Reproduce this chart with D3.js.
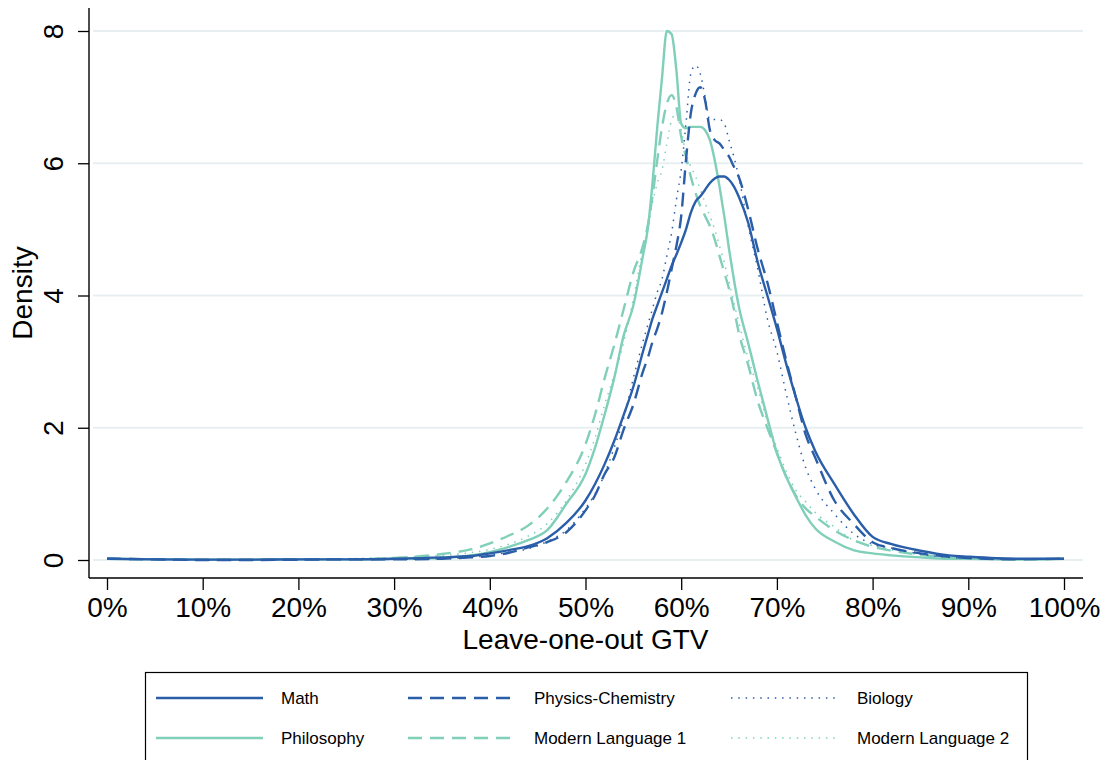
<!DOCTYPE html>
<html>
<head>
<meta charset="utf-8">
<script src="https://cdn.jsdelivr.net/npm/d3@7"></script>
<style>
  html, body { margin: 0; padding: 0; background: #fff; }
  svg { display: block; font-family: "Liberation Sans", Arial, Helvetica, sans-serif; }
</style>
</head>
<body>
<svg id="chart" width="1103" height="760"></svg>
<script>
// Leave-one-out GTV share (x grid shared by every density curve)
const gtv = [0, .05, .10, .15, .20, .25, .30, .35, .38, .40, .42, .44, .46, .48, .50,
  .51, .52, .53, .54, .55, .56, .565, .57, .575, .58, .585, .59, .595, .60,
  .605, .61, .615, .62, .625, .63, .635, .64, .645, .65, .655, .66,
  .67, .68, .69, .70, .71, .72, .73, .74, .76, .78, .80, .82, .85, .88, .90, .95, 1.00];

// Kernel density estimates by subject
const mathDensity = [.02, .01, .005, .005, .01, .01, .02, .04, .06, .10, .15, .21, .33, .56, .90,
  1.15, 1.45, 1.8, 2.2, 2.62, 3.15, 3.4, 3.65, 3.85, 4.05, 4.25, 4.45, 4.62, 4.8,
  5.0, 5.25, 5.42, 5.5, 5.6, 5.7, 5.77, 5.8, 5.8, 5.75, 5.65, 5.5,
  5.1, 4.5, 4.0, 3.5, 2.95, 2.45, 2.0, 1.65, 1.15, 0.7, 0.35, 0.24, 0.14, 0.07, 0.05, 0.02, 0.02];

const physicsChemistryDensity = [.02, .01, 0, 0, .005, .01, .01, .02, .04, .06, .11, .19, .27, .42, .75,
  .98, 1.3, 1.55, 1.98, 2.35, 2.85, 3.05, 3.3, 3.5, 3.74, 4.05, 4.4, 4.75, 5.2,
  6.05, 6.75, 7.05, 7.15, 6.95, 6.5, 6.35, 6.3, 6.2, 6.1, 5.95, 5.8,
  5.3, 4.7, 4.2, 3.6, 3.0, 2.45, 1.9, 1.55, 0.9, 0.55, 0.27, 0.18, 0.1, 0.05, 0.03, 0.01, 0.02];

const biologyDensity = [.02, .01, 0, 0, .005, .01, .01, .02, .04, .07, .12, .17, .28, .45, .78,
  1.0, 1.3, 1.7, 2.15, 2.75, 3.3, 3.55, 3.8, 4.05, 4.25, 4.6, 4.95, 5.45, 5.9,
  6.6, 7.35, 7.48, 7.35, 7.0, 6.66, 6.66, 6.66, 6.6, 6.35, 6.1, 5.8,
  5.05, 4.4, 3.65, 3.15, 2.5, 1.9, 1.4, 1.08, 0.7, 0.4, 0.24, 0.18, 0.09, 0.04, 0.03, 0.01, 0.02];

const philosophyDensity = [.02, .01, .005, .005, .01, .01, .02, .03, .07, .12, .2, .3, .45, .85, 1.3,
  1.7, 2.2, 2.75, 3.4, 3.85, 4.6, 5.0, 5.7, 6.55, 7.3, 8.0, 7.95, 7.4, 6.6,
  6.53, 6.55, 6.55, 6.55, 6.5, 6.35, 6.05, 5.65, 5.2, 4.7, 4.25, 3.85,
  3.28, 2.7, 2.15, 1.62, 1.25, 0.95, 0.68, 0.48, 0.28, 0.15, 0.1, 0.07, 0.04, 0.02, 0.02, 0.01, 0.02];

const modernLanguage1Density = [.02, .01, .005, .005, .01, .01, .03, .09, .16, .25, .37, .52, .78, 1.18, 1.75,
  2.2, 2.75, 3.25, 3.8, 4.35, 4.75, 5.05, 5.5, 6.05, 6.55, 6.9, 7.03, 6.85, 6.4,
  6.1, 5.8, 5.55, 5.35, 5.2, 5.05, 4.85, 4.6, 4.35, 4.1, 3.8, 3.45,
  2.95, 2.4, 2.0, 1.62, 1.25, 0.97, 0.78, 0.66, 0.45, 0.3, 0.2, 0.14, 0.08, 0.04, 0.03, 0.01, 0.02];

const modernLanguage2Density = [.02, .01, .005, .005, .01, .02, .04, .07, .11, .16, .24, .36, .55, .9, 1.45,
  1.85, 2.35, 2.8, 3.3, 3.95, 4.7, 5.0, 5.4, 5.7, 5.9, 6.3, 6.65, 6.75, 6.5,
  6.15, 5.95, 5.8, 5.6, 5.4, 5.2, 5.0, 4.75, 4.5, 4.2, 3.9, 3.6,
  3.05, 2.6, 2.1, 1.7, 1.33, 1.05, 0.88, 0.72, 0.5, 0.3, 0.22, 0.15, 0.08, 0.04, 0.03, 0.01, 0.02];

const subjects = ["Math", "Physics-Chemistry", "Biology", "Philosophy", "Modern Language 1", "Modern Language 2"];
const densities = [mathDensity, physicsChemistryDensity, biologyDensity, philosophyDensity, modernLanguage1Density, modernLanguage2Density];

const xTicks = [0, 0.1, 0.2, 0.3, 0.4, 0.5, 0.6, 0.7, 0.8, 0.9, 1.0];
const yTicks = [0, 2, 4, 6, 8];

// Line styling: scientific subjects in dark blue, humanities in mint
const BLUE = "#2a5ea8";
const MINT = "#7fcfb9";
const styles = {
  "Math":               { color: BLUE, width: 2.4, dash: null },
  "Physics-Chemistry":  { color: BLUE, width: 2.4, dash: "14,8" },
  "Biology":            { color: BLUE, width: 1.5, dash: "1.5,5.8" },
  "Philosophy":         { color: MINT, width: 2.4, dash: null },
  "Modern Language 1":  { color: MINT, width: 2.4, dash: "14,8" },
  "Modern Language 2":  { color: MINT, width: 1.5, dash: "1.5,5.8" }
};

const svg = d3.select("#chart");

const x = d3.scaleLinear().domain([0, 1]).range([107, 1064]);
const y = d3.scaleLinear().domain([0, 8]).range([560, 31]);

const axisLeftX = 89;
const axisBottomY = 578;

// Horizontal grid lines
svg.append("g")
  .selectAll("line")
  .data(yTicks)
  .join("line")
  .attr("x1", axisLeftX + 4)
  .attr("x2", 1083)
  .attr("y1", d => y(d))
  .attr("y2", d => y(d))
  .attr("stroke", "#e8eff1")
  .attr("stroke-width", 2);

// Density curves
const line = d3.line()
  .x(d => x(d[0]))
  .y(d => y(d[1]))
  .curve(d3.curveMonotoneX);

const curveOrder = [5, 4, 3, 2, 1, 0];
svg.append("g")
  .selectAll("path")
  .data(curveOrder)
  .join("path")
  .attr("fill", "none")
  .attr("stroke", i => styles[subjects[i]].color)
  .attr("stroke-width", i => styles[subjects[i]].width)
  .attr("stroke-dasharray", i => styles[subjects[i]].dash)
  .attr("stroke-linejoin", "round")
  .attr("d", i => line(gtv.map((g, k) => [g, densities[i][k]])));

// Y axis
const yAxis = svg.append("g")
  .attr("transform", `translate(${axisLeftX},0)`)
  .call(d3.axisLeft(y).tickValues(yTicks).tickSize(11).tickSizeOuter(0).tickFormat(d3.format("d")));
yAxis.select(".domain").remove();
yAxis.selectAll(".tick line").attr("stroke", "#000").attr("stroke-width", 1.3);
yAxis.selectAll(".tick text")
  .attr("x", null).attr("dy", null)
  .attr("text-anchor", "middle")
  .attr("transform", "translate(-26,0) rotate(-90)")
  .attr("font-size", 28)
  .attr("font-family", "Liberation Sans, Arial, sans-serif")
  .attr("fill", "#000");

// X axis
const xAxis = svg.append("g")
  .attr("transform", `translate(0,${axisBottomY})`)
  .call(d3.axisBottom(x).tickValues(xTicks).tickSize(12).tickPadding(7).tickFormat(d3.format(".0%")));
xAxis.select(".domain").remove();
xAxis.selectAll(".tick line").attr("stroke", "#000").attr("stroke-width", 1.3);
xAxis.selectAll(".tick text")
  .attr("font-size", 28)
  .attr("font-family", "Liberation Sans, Arial, sans-serif")
  .attr("fill", "#000");

// Axis lines
svg.append("line")
  .attr("x1", axisLeftX).attr("x2", axisLeftX)
  .attr("y1", 8).attr("y2", axisBottomY)
  .attr("stroke", "#000").attr("stroke-width", 1.4);
svg.append("line")
  .attr("x1", axisLeftX).attr("x2", 1083)
  .attr("y1", axisBottomY).attr("y2", axisBottomY)
  .attr("stroke", "#000").attr("stroke-width", 1.4);

// Axis titles
svg.append("text")
  .attr("transform", "translate(32,293) rotate(-90)")
  .attr("text-anchor", "middle")
  .attr("font-size", 28)
  .text("Density");

svg.append("text")
  .attr("x", (x(0) + x(1)) / 2)
  .attr("y", 649)
  .attr("text-anchor", "middle")
  .attr("font-size", 28)
  .text("Leave-one-out GTV");

// Legend
const legend = svg.append("g");
legend.append("rect")
  .attr("x", 145.5).attr("y", 672.5)
  .attr("width", 882).attr("height", 100)
  .attr("fill", "none")
  .attr("stroke", "#000")
  .attr("stroke-width", 1.2);

const colLineX = [156, 408, 731];
const colTextX = [281, 534, 857];
const rowY = [698, 738];
const lineLen = 107;

subjects.forEach((s, i) => {
  const col = i % 3;
  const row = Math.floor(i / 3);
  const st = styles[s];
  const g = legend.append("g");
  g.append("line")
    .attr("x1", colLineX[col]).attr("x2", colLineX[col] + lineLen)
    .attr("y1", rowY[row]).attr("y2", rowY[row])
    .attr("stroke", st.color)
    .attr("stroke-width", st.width)
    .attr("stroke-dasharray", st.dash);
  g.append("text")
    .attr("x", colTextX[col])
    .attr("y", rowY[row])
    .attr("dy", "0.35em")
    .attr("font-size", 17)
    .text(s);
});
</script>
</body>
</html>
